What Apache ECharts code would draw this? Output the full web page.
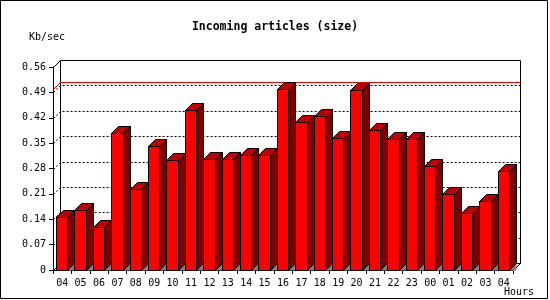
<!DOCTYPE html>
<html>
<head>
<meta charset="utf-8">
<script src="https://cdn.jsdelivr.net/npm/echarts@6/dist/echarts.min.js"></script>
<style>html,body{margin:0;padding:0;background:#fff}#c{width:550px;height:300px}</style>
</head>
<body>
<div id="c"></div>
<script>
const categories = ['04','05','06','07','08','09','10','11','12','13','14','15','16','17','18','19','20','21','22','23','00','01','02','03','04'];
const values = [0.145,0.165,0.118,0.377,0.223,0.341,0.303,0.441,0.305,0.305,0.316,0.316,0.499,0.408,0.425,0.364,0.496,0.386,0.361,0.361,0.287,0.210,0.157,0.190,0.273];
const yTicks = [0,0.07,0.14,0.21,0.28,0.35,0.42,0.49,0.56];
const yMax = 0.56, yInterval = 0.07;
const title = 'Incoming articles (size)';
const yName = 'Kb/sec';
const xName = 'Hours';

const D = 7;
const FONT = 'DejaVu Sans Mono';
const px = v => Math.round(v) + 0.5;

const chart = echarts.init(document.getElementById('c'), null, {renderer: 'canvas'});
const maxVal = Math.max.apply(null, values);

function gridRender(params, api) {
  const val = api.value(1);
  const cs = params.coordSys;
  const y = px(api.coord([0, val])[1]);
  const xl = px(cs.x), xr = px(cs.x + cs.width);
  const solid = (val === yMax || val === 0);
  const children = [{
    type: 'polyline',
    shape: {points: [[xl, y], [xl + D, y - D], [xr + D, y - D]]},
    style: {stroke: '#000', lineWidth: 1, fill: null, lineDash: solid ? null : [2, 2]}
  }];
  if (val === yMax) {
    const yb = px(cs.y + cs.height);
    children.push({type: 'line', shape: {x1: xl + D, y1: y - D, x2: xl + D, y2: yb - D}, style: {stroke: '#000', lineWidth: 1}});
    children.push({type: 'line', shape: {x1: xr + D, y1: y - D, x2: xr + D, y2: yb - D}, style: {stroke: '#000', lineWidth: 1}});
    children.push({type: 'line', shape: {x1: xr, y1: yb, x2: xr + D, y2: yb - D}, style: {stroke: '#000', lineWidth: 1}});
  }
  return {type: 'group', children: children};
}

function maxRender(params, api) {
  const val = api.value(1);
  const cs = params.coordSys;
  const y = px(api.coord([0, val])[1]);
  const xl = px(cs.x), xr = px(cs.x + cs.width);
  return {
    type: 'polyline',
    shape: {points: [[xl, y], [xl + D, y - D], [xr + D, y - D]]},
    style: {stroke: '#ff0000', lineWidth: 1, fill: null}
  };
}

function barRender(params, api) {
  const idx = api.value(0), val = api.value(1);
  const top = api.coord([idx, val]);
  const base = api.coord([idx, 0]);
  const bw = api.size([1, 0])[0];
  const x0 = px(top[0] - bw / 2 + 3);
  const x1 = px(top[0] - bw / 2 + 3 + bw - D);
  const yt = px(top[1]);
  const yb = px(base[1]);
  const stroke = {stroke: '#000', lineWidth: 1};
  return {
    type: 'group',
    children: [
      {type: 'polygon', shape: {points: [[x1, yb], [x1 + D, yb - D], [x1 + D, yb]]}, style: {fill: '#808080'}},
      {type: 'polygon', shape: {points: [[x1, yt], [x1 + D, yt - D], [x1 + D, yb - D], [x1, yb]]}, style: Object.assign({fill: '#800000'}, stroke)},
      {type: 'polygon', shape: {points: [[x0, yt], [x0 + D, yt - D], [x1 + D, yt - D], [x1, yt]]}, style: Object.assign({fill: '#c00000'}, stroke)},
      {type: 'rect', shape: {x: x0, y: yt, width: x1 - x0, height: yb - yt}, style: Object.assign({fill: '#ff0000'}, stroke)}
    ]
  };
}

chart.setOption({
  animation: false,
  backgroundColor: '#fff',
  title: {
    text: title, left: 'center', top: 16,
    textStyle: {fontFamily: FONT, fontWeight: 'bold', fontSize: 11.5, color: '#000'}
  },
  graphic: [
    {type: 'rect', shape: {x: 0.5, y: 0.5, width: 547, height: 298}, style: {fill: null, stroke: '#000', lineWidth: 1}, z: 100},
    {type: 'text', left: 29, top: 32, style: {text: yName, fontFamily: FONT, fontSize: 10, fill: '#000'}},
    {type: 'text', left: 504, top: 287, style: {text: xName, fontFamily: FONT, fontSize: 10, fill: '#000'}}
  ],
  grid: {left: 53, right: 37, top: 67, bottom: 30, containLabel: false},
  xAxis: {
    type: 'category', data: categories, boundaryGap: true,
    axisLine: {show: true, lineStyle: {color: '#000', width: 1}},
    axisTick: {show: true, length: 4, alignWithLabel: false, interval: 0, lineStyle: {color: '#000'}},
    axisLabel: {interval: 0, margin: 8, color: '#000', fontFamily: FONT, fontSize: 10},
    splitLine: {show: false}
  },
  yAxis: {
    type: 'value', min: 0, max: yMax, interval: yInterval,
    axisLine: {show: true, lineStyle: {color: '#000', width: 1}},
    axisTick: {show: true, length: 4, lineStyle: {color: '#000'}},
    axisLabel: {margin: 7, color: '#000', fontFamily: FONT, fontSize: 10,
      formatter: v => v === 0 ? '0' : v.toFixed(2)},
    splitLine: {show: false}
  },
  series: [
    {type: 'custom', clip: false, z: 1, renderItem: gridRender,
      data: yTicks.map(v => [0, v]), encode: {x: 0, y: 1}, silent: true},
    {type: 'custom', clip: false, z: 2, renderItem: maxRender,
      data: [[0, maxVal]], encode: {x: 0, y: 1}, silent: true},
    {type: 'custom', clip: false, z: 3, renderItem: barRender,
      data: values.map((v, i) => [i, v]), encode: {x: 0, y: 1}}
  ]
});
</script>
</body>
</html>
